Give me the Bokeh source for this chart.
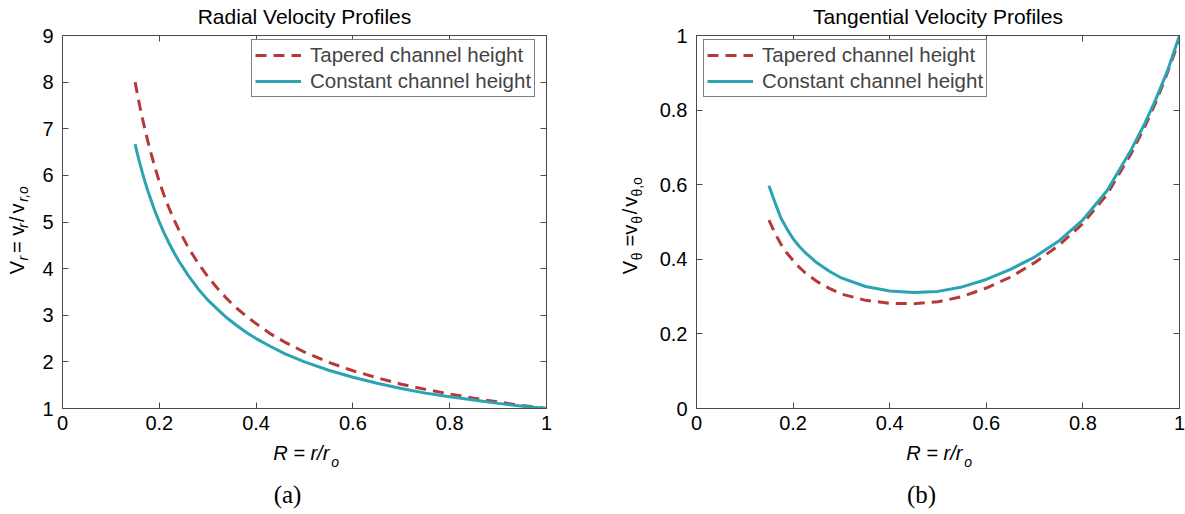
from bokeh.plotting import figure
from bokeh.models import (Range1d, FixedTicker, LinearAxis, Legend, LegendItem,
                          CustomJSTickFormatter)
from bokeh.layouts import row, column
from bokeh.core.properties import value
from bokeh.embed import file_html
from bokeh.resources import INLINE

# ---------------- data ----------------
# Radial velocity profiles, V_r against R = r/r_o
R_radial = [0.15, 0.155, 0.16, 0.165, 0.17, 0.175, 0.18, 0.19, 0.20, 0.21,
            0.22, 0.23, 0.24, 0.26, 0.28, 0.30, 0.32, 0.34, 0.36, 0.38, 0.40,
            0.43, 0.46, 0.50, 0.55, 0.60, 0.65, 0.70, 0.75, 0.80, 0.85, 0.90,
            0.95, 1.00]
Vr_tapered = [8.00, 7.73, 7.47, 7.23, 7.00, 6.79, 6.58, 6.21, 5.86, 5.57,
              5.30, 5.06, 4.84, 4.45, 4.12, 3.83, 3.58, 3.35, 3.15, 2.98, 2.82,
              2.60, 2.42, 2.21, 1.99, 1.81, 1.66, 1.52, 1.41, 1.31, 1.22, 1.14,
              1.065, 1.00]
Vr_constant = [6.67, 6.45, 6.25, 6.06, 5.88, 5.71, 5.56, 5.26, 5.00, 4.76,
               4.55, 4.35, 4.17, 3.85, 3.57, 3.33, 3.13, 2.94, 2.78, 2.63, 2.50,
               2.33, 2.17, 2.00, 1.82, 1.67, 1.54, 1.43, 1.33, 1.25, 1.18, 1.11,
               1.05, 1.00]

# Tangential velocity profiles, V_theta against R = r/r_o
R_tangential = [0.15, 0.1625, 0.175, 0.1875, 0.20, 0.2125, 0.225, 0.25, 0.275,
                0.30, 0.35, 0.40, 0.45, 0.50, 0.55, 0.60, 0.65, 0.70, 0.75,
                0.80, 0.85, 0.90, 0.925, 0.95, 0.975, 1.00]
Vt_tapered = [0.505, 0.470, 0.440, 0.416, 0.397, 0.379, 0.364, 0.340, 0.322,
              0.307, 0.290, 0.282, 0.281, 0.286, 0.300, 0.323, 0.352, 0.391,
              0.437, 0.496, 0.574, 0.684, 0.747, 0.818, 0.900, 0.990]
Vt_constant = [0.597, 0.552, 0.510, 0.481, 0.455, 0.435, 0.418, 0.390, 0.368,
               0.350, 0.327, 0.315, 0.311, 0.314, 0.326, 0.346, 0.373, 0.406,
               0.449, 0.506, 0.584, 0.694, 0.756, 0.826, 0.905, 1.000]

# ticks
x_ticks = [0, 0.2, 0.4, 0.6, 0.8, 1]
x_tick_labels = ["0", "0.2", "0.4", "0.6", "0.8", "1"]
yr_ticks = [1, 2, 3, 4, 5, 6, 7, 8, 9]
yr_tick_labels = ["1", "2", "3", "4", "5", "6", "7", "8", "9"]
yt_ticks = [0, 0.2, 0.4, 0.6, 0.8, 1]
yt_tick_labels = ["0", "0.2", "0.4", "0.6", "0.8", "1"]

series_names = ["Tapered channel height", "Constant channel height"]
titles = ["Radial Velocity Profiles", "Tangential Velocity Profiles"]
captions = ["(a)", "(b)"]

# ---------------- styling ----------------
FONT = "Liberation Sans"
SERIF = "Liberation Serif"
AXIS_COLOR = "#4a4a4a"
RED = "#B73838"
CYAN = "#2AA3B2"
FS = "20px"
SUB = "14px"
ROT = 1.5707963267948966

TOTAL_W = 1185
MID_H, FOOT_H = 440, 74
TOP = 35


def text_panel(width, height):
    """Blank figure whose frame covers the whole canvas, used to hold text."""
    t = figure(width=width, height=height, x_range=Range1d(0, width),
               y_range=Range1d(0, height), output_backend="svg",
               toolbar_location=None, min_border=0, title_location=None,
               x_axis_location=None, y_axis_location=None,
               background_fill_color="white", border_fill_color="white")
    t.outline_line_color = None
    t.grid.visible = False
    return t


def put(t, x, y_top, text, size=FS, style="normal", angle=0.0, align="left",
        font=FONT):
    # x, y_top: baseline position in pixels from the panel's top-left corner.
    # The glyph's baseline sits about 0.29 em past the anchor, so pull back.
    em = float(size.replace("px", ""))
    shift = 0.29 * em
    if angle:
        x -= shift
    else:
        y_top -= shift
    t.text(x=[x], y=[t.height - y_top], text=[text], text_font=value(font),
           text_font_size=size, text_font_style=style, angle=angle,
           text_align=align, text_baseline="alphabetic", text_color="black")


def make_plot(width, left, right, xr, yr, xt, xl, yt, yl, title):
    p = figure(width=width, height=MID_H, x_range=Range1d(*xr), y_range=Range1d(*yr),
               output_backend="svg", toolbar_location=None, title_location=None,
               min_border_left=left, min_border_right=right,
               min_border_top=TOP, min_border_bottom=32,
               background_fill_color="white", border_fill_color="white")
    p.grid.visible = False
    p.outline_line_color = AXIS_COLOR
    p.outline_line_width = 1

    for ax, ticks, labels in ((p.xaxis[0], xt, xl), (p.yaxis[0], yt, yl)):
        ax.ticker = FixedTicker(ticks=ticks)
        ax.major_label_overrides = {t: s for t, s in zip(ticks, labels)}
        ax.major_label_text_font = FONT
        ax.major_label_text_font_size = FS
        ax.major_label_text_color = "black"
        ax.major_tick_in = 6
        ax.major_tick_out = 0
        ax.minor_tick_line_color = None
        ax.axis_line_color = AXIS_COLOR
        ax.major_tick_line_color = AXIS_COLOR
    p.xaxis[0].major_label_standoff = 7
    p.yaxis[0].major_label_standoff = 9

    # mirrored ticks on the top and right edges; the top one carries the title
    for side, ticks in (("above", xt), ("right", yt)):
        ax = LinearAxis(ticker=FixedTicker(ticks=ticks),
                        formatter=CustomJSTickFormatter(code="return ''"),
                        major_label_text_font_size="1px", major_label_standoff=0,
                        major_tick_in=6, major_tick_out=0,
                        minor_tick_line_color=None,
                        axis_line_color=AXIS_COLOR,
                        major_tick_line_color=AXIS_COLOR)
        if side == "above":
            ax.axis_label = title
            ax.axis_label_text_font = FONT
            ax.axis_label_text_font_size = "21px"
            ax.axis_label_text_font_style = "normal"
            ax.axis_label_text_color = "black"
            ax.axis_label_standoff = 8
        p.add_layout(ax, side)
    return p


def add_legend(p, r_taper, r_const, loc):
    leg = Legend(items=[LegendItem(label=series_names[0], renderers=[r_taper]),
                        LegendItem(label=series_names[1], renderers=[r_const])],
                 location=loc, label_text_font=FONT, label_text_font_size="20.5px",
                 glyph_width=46, glyph_height=22, label_height=22,
                 label_standoff=9, padding=3, spacing=2, margin=0,
                 border_line_color="black", border_line_width=1,
                 background_fill_color="white", background_fill_alpha=1.0)
    p.add_layout(leg)


# ---------------- radial panel ----------------
p1 = make_plot(566, 28, 54, (0, 1), (1, 9), x_ticks, x_tick_labels,
               yr_ticks, yr_tick_labels, titles[0])
r1a = p1.line(R_radial, Vr_tapered, line_color=RED, line_width=3, line_dash="11 7")
r1b = p1.line(R_radial, Vr_constant, line_color=CYAN, line_width=3)
add_legend(p1, r1a, r1b, (189, 311))

# y label: V_r = v_r / v_{r,o}
ylab1 = text_panel(34, MID_H)
put(ylab1, 22, 281.7, "V", angle=ROT)
put(ylab1, 27, 265.5, "r", size=SUB, style="italic", angle=ROT)
put(ylab1, 22, 256.5, "= v", angle=ROT)
put(ylab1, 27, 227, "r", size=SUB, style="italic", angle=ROT)
put(ylab1, 22, 220, "/", angle=ROT)
put(ylab1, 22, 210, "v", angle=ROT)
put(ylab1, 27, 196, "r,o", size=SUB, style="italic", angle=ROT)

# ---------------- tangential panel ----------------
p2 = make_plot(533, 44, 6, (0, 1), (0, 1), x_ticks, x_tick_labels,
               yt_ticks, yt_tick_labels, titles[1])
r2a = p2.line(R_tangential, Vt_tapered, line_color=RED, line_width=3, line_dash="11 7")
r2b = p2.line(R_tangential, Vt_constant, line_color=CYAN, line_width=3)
add_legend(p2, r2a, r2b, (7, 311))

# y label: V_theta = v_theta / v_{theta,o}
ylab2 = text_panel(52, MID_H)
put(ylab2, 35.5, 281.7, "V", angle=ROT)
put(ylab2, 41, 265, "θ", size=SUB, angle=ROT)
put(ylab2, 35.5, 249, "=", angle=ROT)
put(ylab2, 35.5, 235, "v", angle=ROT)
put(ylab2, 41, 222, "θ", size=SUB, angle=ROT)
put(ylab2, 35.5, 211, "/", angle=ROT)
put(ylab2, 35.5, 202, "v", angle=ROT)
put(ylab2, 41, 190, "θ,o", size=SUB, angle=ROT)

# ---------------- x labels and captions ----------------
foot = text_panel(TOTAL_W, FOOT_H)
put(foot, 272.7, 18, "R = r/r", style="italic")
put(foot, 330.7, 25.5, "o", size=SUB, style="italic")
put(foot, 905.8, 18, "R = r/r", style="italic")
put(foot, 963.8, 25.5, "o", size=SUB, style="italic")
put(foot, 287, 61, captions[0], size="25px", align="center", font=SERIF)
put(foot, 921, 61, captions[1], size="25px", align="center", font=SERIF)

layout = column(row(ylab1, p1, ylab2, p2), foot)
open("out.html", "w").write(file_html(layout, INLINE))
